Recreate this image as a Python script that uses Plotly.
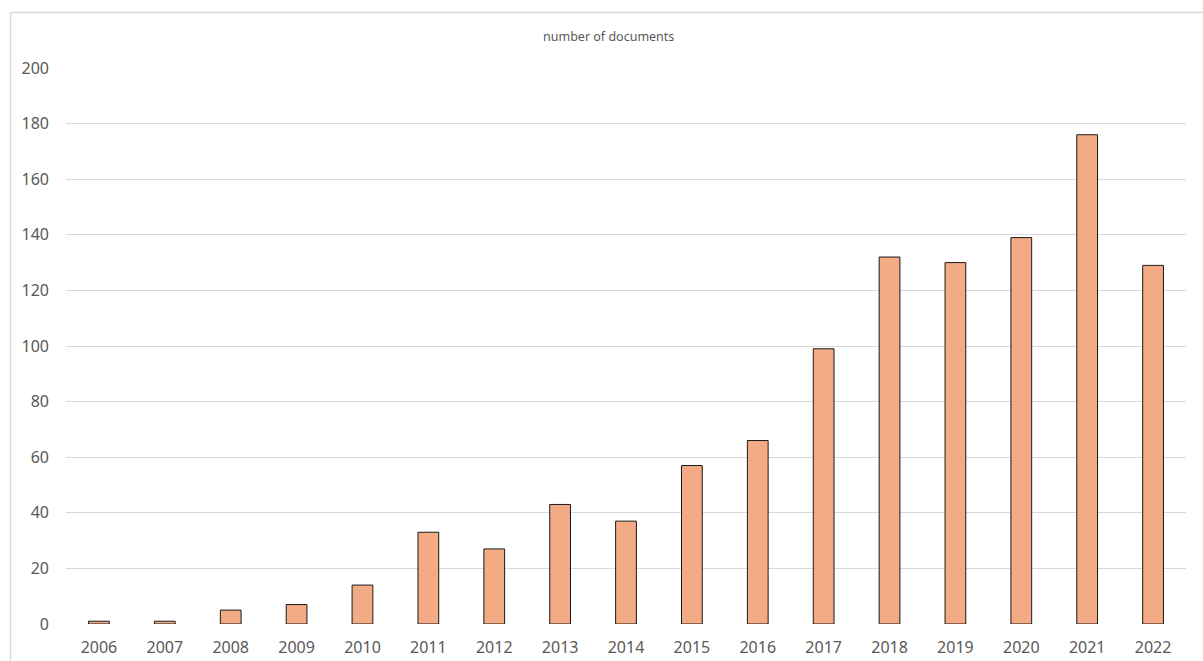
import plotly.graph_objects as go

years = ["2006", "2007", "2008", "2009", "2010", "2011", "2012", "2013", "2014",
         "2015", "2016", "2017", "2018", "2019", "2020", "2021", "2022"]
documents = [1, 1, 5, 7, 14, 33, 27, 43, 37, 57, 66, 99, 132, 130, 139, 176, 129]
y_ticks = [0, 20, 40, 60, 80, 100, 120, 140, 160, 180, 200]

W, H = 1203, 661
L, R = 66, 1186.5
T, B = 68, 624

fig = go.Figure(go.Bar(
    x=years, y=documents,
    marker=dict(color="#F2AB84", line=dict(color="#1a1a1a", width=1)),
    hoverinfo="x+y",
))

pw = R - L
ph = B - T
def px_x(x):
    return (x - L) / pw
def px_y(y):
    return (B - y) / ph

fig.update_layout(
    width=W, height=H,
    margin=dict(l=L, r=W - R, t=T, b=H - B, pad=0, autoexpand=False),
    paper_bgcolor="white", plot_bgcolor="white",
    bargap=0.685,
    showlegend=False,
    font=dict(family="Noto Sans", color="#595959"),
    xaxis=dict(
        type="category", showgrid=False, zeroline=False, showline=False,
        ticks="", tickfont=dict(size=16, color="#595959"),
        ticklabelstandoff=12, automargin=False,
    ),
    yaxis=dict(
        range=[0, 200], tickvals=y_ticks, showgrid=True, gridcolor="#D9D9D9",
        gridwidth=1, zeroline=False, showline=False, ticks="",
        tickfont=dict(size=16, color="#595959"), ticklabelstandoff=16,
        automargin=False,
    ),
    annotations=[dict(
        text="number of documents", xref="paper", yref="paper",
        x=px_x(609), y=px_y(37), xanchor="center", yanchor="middle",
        showarrow=False, font=dict(size=12.5, color="#595959", family="Noto Sans"),
    )],
    shapes=[dict(
        type="rect", xref="paper", yref="paper",
        x0=px_x(10.5), x1=px_x(1230), y0=px_y(700), y1=px_y(12.5),
        line=dict(color="#D9D9D9", width=1.5), fillcolor="rgba(0,0,0,0)",
        layer="below",
    )],
)

fig.write_html(
    "out.html",
    config={"displayModeBar": False},
    post_script="document.body.style.margin='0';document.body.style.overflow='hidden';",
)
